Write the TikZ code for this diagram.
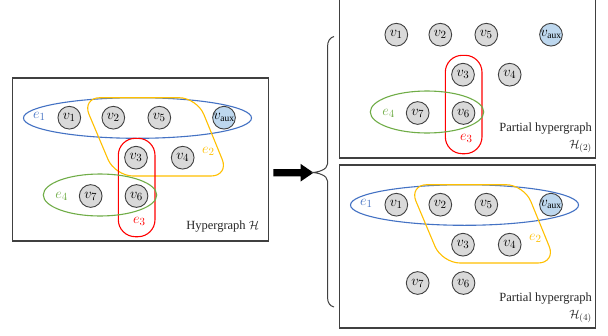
\documentclass[tikz,border=0pt]{standalone}
\usepackage{fontspec}
\setmainfont{Liberation Serif}
\definecolor{eblue}{HTML}{4472C4}
\definecolor{eyellow}{HTML}{FFC000}
\definecolor{ered}{HTML}{FF0000}
\definecolor{egreen}{HTML}{70AD47}
\definecolor{vfill}{HTML}{D9D9D9}
\definecolor{auxfill}{HTML}{BDD7EE}
\definecolor{frame}{HTML}{404040}
\newcommand{\hgverts}[1]{%
  \node[vert] (#1v1) at (69.3,117.7) {$v_1$};
  \node[vert] (#1v2) at (113.3,117.7) {$v_2$};
  \node[vert] (#1v5) at (159.3,117.7) {$v_5$};
  \node[vert,fill=auxfill,font=\fontsize{13.5}{15}\selectfont] (#1vaux) at (224,117.7) {$v_{\mathrm{aux}}$};
  \node[vert] (#1v3) at (136,157.7) {$v_3$};
  \node[vert] (#1v4) at (182.7,157.7) {$v_4$};
  \node[vert] (#1v7) at (90.7,196) {$v_7$};
  \node[vert] (#1v6) at (136.5,196) {$v_6$};
}
\newcommand{\edgeone}[1]{%
  \draw[eblue,hedge] (137.5,118) ellipse [x radius=114pt, y radius=20.3pt];
  \node[elabel,text=eblue] (#1e1) at (39.3,116.7) {$e_1$};
}
\newcommand{\edgetwo}[1]{%
  \draw[eyellow,hedge,rounded corners=18pt] (82,97.7) -- (197,97.7) -- (229,176) -- (115,176) -- cycle;
  \node[elabel,text=eyellow] (#1e2) at (208.3,151.7) {$e_2$};
}
\newcommand{\edgethree}[1]{%
  \draw[ered,hedge,rounded corners=17pt] (118.3,138.3) rectangle (155,236.7);
  \node[elabel,text=ered] (#1e3) at (139.3,221.7) {$e_3$};
}
\newcommand{\edgefour}[1]{%
  \draw[egreen,hedge] (100,195) ellipse [x radius=56.7pt, y radius=21pt];
  \node[elabel,text=egreen] (#1e4) at (61.7,196) {$e_4$};
}
\begin{document}
\begin{tikzpicture}[x=1pt,y=-1pt,
  vert/.style={circle,draw=frame,line width=0.9pt,fill=vfill,minimum size=22.7pt,inner sep=0pt,font=\fontsize{15.5}{17}\selectfont},
  hedge/.style={line width=1.1pt},
  elabel/.style={inner sep=0pt,font=\fontsize{15.5}{17}\selectfont},
  boxframe/.style={draw=frame,line width=1.1pt,inner sep=0pt},
  caption/.style={inner sep=0pt,align=right,font=\fontsize{12.5}{16.5}\selectfont,text=black!85}]
\useasboundingbox (0,0) rectangle (608,335);
\fill[white] (0,0) rectangle (608,335);
% left hypergraph
\begin{scope}
  \draw[boxframe] (12.7,78) rectangle (268.7,241);
  \edgeone{L}
  \edgetwo{L}
  \edgethree{L}
  \edgefour{L}
  \hgverts{L}
  \node[caption,anchor=east] (Lcap) at (259.3,226.7) {Hypergraph $\mathcal{H}$};
\end{scope}
% top partial hypergraph
\begin{scope}[shift={(327,-83)}]
  \draw[boxframe] (12.7,78) rectangle (268.7,241);
  \edgethree{T}
  \edgefour{T}
  \hgverts{T}
  \node[caption,anchor=east] (Tcap) at (265,221) {Partial hypergraph\\$\mathcal{H}_{(2)}$};
\end{scope}
% bottom partial hypergraph
\begin{scope}[shift={(327,87)}]
  \draw[boxframe] (12.7,78) rectangle (268.7,241);
  \edgeone{B}
  \edgetwo{B}
  \hgverts{B}
  \node[caption,anchor=east] (Bcap) at (265,221) {Partial hypergraph\\$\mathcal{H}_{(4)}$};
\end{scope}
% arrow
\fill[black] (273.3,169) -- (300.5,169) -- (300.5,163.8) -- (313.5,172.7) -- (300.5,181.6) -- (300.5,176.4) -- (273.3,176.4) -- cycle;
% brace
\draw[frame,line width=1pt] (334,36.5) .. controls (330,37.5) and (327.5,41) .. (327.5,47) -- (327.5,164)
  .. controls (327.5,169.5) and (318,172.5) .. (311.5,172.5)
  .. controls (318,172.5) and (327.5,175.5) .. (327.5,181) -- (327.5,297)
  .. controls (327.5,303) and (330,306) .. (334,307);
\end{tikzpicture}
\end{document}
